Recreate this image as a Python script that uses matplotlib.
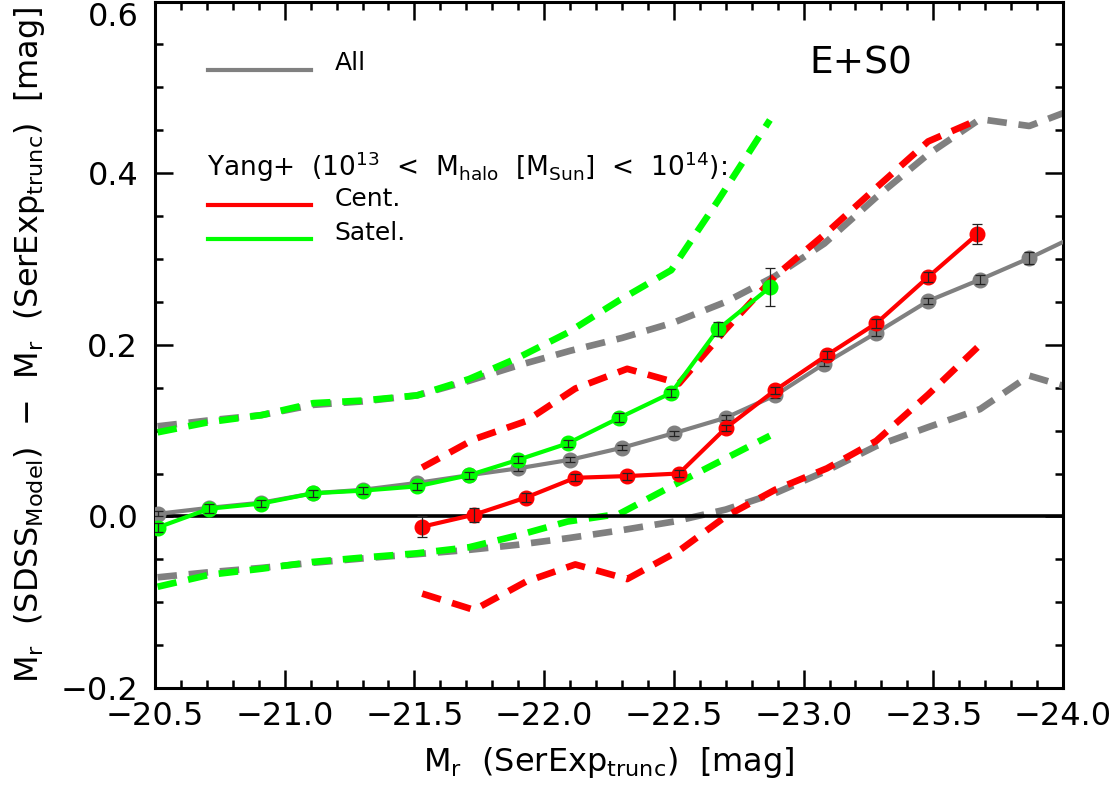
import matplotlib
matplotlib.use("Agg")
import matplotlib.pyplot as plt
from matplotlib.ticker import MultipleLocator, FixedLocator

plt.rcParams['font.family'] = ['DejaVu Sans']
plt.rcParams['mathtext.fontset'] = 'dejavusans'
plt.rcParams['lines.scale_dashes'] = False

# ---- data ----
x_all = [-20.51, -20.71, -20.91, -21.11, -21.30, -21.51, -21.71, -21.90, -22.10,
         -22.30, -22.50, -22.70, -22.89, -23.08, -23.28, -23.48, -23.68, -23.87, -24.07]
y_all = [0.003, 0.010, 0.016, 0.027, 0.031, 0.039, 0.048, 0.056, 0.066,
         0.080, 0.097, 0.115, 0.141, 0.178, 0.214, 0.251, 0.276, 0.301, 0.330]
e_all = [0.003, 0.003, 0.003, 0.003, 0.003, 0.003, 0.003, 0.003, 0.003,
         0.003, 0.003, 0.003, 0.003, 0.003, 0.004, 0.004, 0.005, 0.007, 0.008]
hi_all = [0.105, 0.112, 0.118, 0.130, 0.134, 0.141, 0.158, 0.176, 0.193,
          0.208, 0.226, 0.250, 0.280, 0.318, 0.372, 0.422, 0.463, 0.455, 0.478]
lo_all = [-0.071, -0.065, -0.060, -0.054, -0.049, -0.044, -0.039, -0.033, -0.025,
          -0.016, -0.006, 0.008, 0.027, 0.052, 0.082, 0.104, 0.125, 0.164, 0.146]

x_cen = [-21.53, -21.73, -21.93, -22.12, -22.32, -22.52, -22.70, -22.89, -23.09,
         -23.28, -23.48, -23.67]
y_cen = [-0.012, 0.002, 0.022, 0.045, 0.047, 0.050, 0.103, 0.147, 0.188,
         0.225, 0.279, 0.329]
e_cen = [0.012, 0.008, 0.005, 0.004, 0.004, 0.004, 0.004, 0.004, 0.005,
         0.005, 0.006, 0.012]
hi_cen = [0.057, 0.090, 0.111, 0.149, 0.172, 0.155, 0.218, 0.280, 0.331,
          0.383, 0.437, 0.462]
lo_cen = [-0.090, -0.109, -0.076, -0.056, -0.073, -0.040, 0.000, 0.031, 0.056,
          0.088, 0.142, 0.197]

x_sat = [-20.51, -20.71, -20.91, -21.11, -21.30, -21.51, -21.71, -21.90, -22.09,
         -22.29, -22.49, -22.67, -22.87]
y_sat = [-0.013, 0.009, 0.015, 0.027, 0.030, 0.035, 0.048, 0.066, 0.085,
         0.115, 0.144, 0.218, 0.267]
e_sat = [0.005, 0.005, 0.004, 0.004, 0.004, 0.004, 0.004, 0.004, 0.004,
         0.005, 0.005, 0.008, 0.022]
hi_sat = [0.098, 0.110, 0.118, 0.132, 0.135, 0.141, 0.160, 0.185, 0.214,
          0.252, 0.287, 0.368, 0.462]
lo_sat = [-0.082, -0.068, -0.061, -0.053, -0.048, -0.043, -0.036, -0.022, -0.006,
          0.003, 0.035, 0.063, 0.094]

xticks = [-20.5, -21.0, -21.5, -22.0, -22.5, -23.0, -23.5, -24.0]
yticks = [-0.2, 0.0, 0.2, 0.4, 0.6]

GRAY = '#808080'
RED = '#ff0000'
GREEN = '#00ff00'

fig = plt.figure(figsize=(11.15, 7.92), dpi=100)
ax = fig.add_axes([0.139, 0.1313, 0.8144, 0.8667])

dash = (14, 8.5)
dlw = 4.8
for xs, ys, c in [(x_all, hi_all, GRAY), (x_all, lo_all, GRAY),
                  (x_sat, hi_sat, GREEN), (x_sat, lo_sat, GREEN),
                  (x_cen, hi_cen, RED), (x_cen, lo_cen, RED)]:
    ax.plot(xs, ys, color=c, lw=dlw, dashes=dash, dash_capstyle='butt', zorder=2)

ax.axhline(0.0, color='black', lw=2.6, zorder=3)

slw = 3.0
ms = 10.5
for xs, ys, es, c, z in [(x_all, y_all, e_all, GRAY, 4),
                         (x_cen, y_cen, e_cen, RED, 5),
                         (x_sat, y_sat, e_sat, GREEN, 6)]:
    ax.plot(xs, ys, color=c, lw=slw, marker='o', ms=ms, mec=c, mfc=c, zorder=z)
    ax.errorbar(xs, ys, yerr=es, fmt='none', ecolor='#222222', elinewidth=0.9,
                capsize=3.5, capthick=0.9, zorder=z + 0.5)

ax.set_xlim(-20.5, -24.0)
ax.set_ylim(-0.2, 0.6)
ax.xaxis.set_major_locator(FixedLocator(xticks))
ax.set_xticklabels(['\u2212%.1f' % abs(v) for v in xticks])
ax.xaxis.set_minor_locator(MultipleLocator(0.1))
ax.yaxis.set_major_locator(FixedLocator(yticks))
ylabs = ax.set_yticklabels([('\u2212%.1f' % abs(v)) if v < 0 else '%.1f' % v for v in yticks])
ylabs[-1].set_verticalalignment('top')
ax.yaxis.set_minor_locator(MultipleLocator(0.05))

ax.tick_params(which='both', direction='in', top=True, right=True,
               labelsize=23, width=1.8, color='black')
ax.tick_params(which='major', length=13)
ax.tick_params(which='minor', length=6)
ax.tick_params(axis='x', which='major', pad=9)
ax.tick_params(axis='y', which='major', pad=12)
for s in ax.spines.values():
    s.set_linewidth(2.2)

ax.set_xlabel(r'M$_{\rm r}$  (SerExp$_{\rm trunc}$)  [mag]', fontsize=23, labelpad=10)
ax.set_ylabel(r'M$_{\rm r}$  (SDSS$_{\rm Model}$)  $-$  M$_{\rm r}$  (SerExp$_{\rm trunc}$)  [mag]',
              fontsize=23, labelpad=10)

# legend-like annotations
T = ax.transAxes
ax.plot([0.0583, 0.1718], [0.8997, 0.8997], color=GRAY, lw=3.0, transform=T)
ax.text(0.198, 0.91, 'All', fontsize=18, va='center', ha='left', transform=T)
ax.text(0.057, 0.760,
        r'Yang+  (10$^{13}$  <  M$_{\rm halo}$  [M$_{\rm Sun}$]  <  10$^{14}$):',
        fontsize=19, va='center', ha='left', transform=T)
ax.plot([0.0583, 0.1718], [0.7035, 0.7035], color=RED, lw=3.0, transform=T)
ax.text(0.198, 0.712, 'Cent.', fontsize=18, va='center', ha='left', transform=T)
ax.plot([0.0583, 0.1718], [0.654, 0.654], color=GREEN, lw=3.0, transform=T)
ax.text(0.198, 0.663, 'Satel.', fontsize=18, va='center', ha='left', transform=T)
ax.text(0.721, 0.91, 'E+S0', fontsize=27, va='center', ha='left', transform=T)

fig.savefig('out.png', dpi=100)
